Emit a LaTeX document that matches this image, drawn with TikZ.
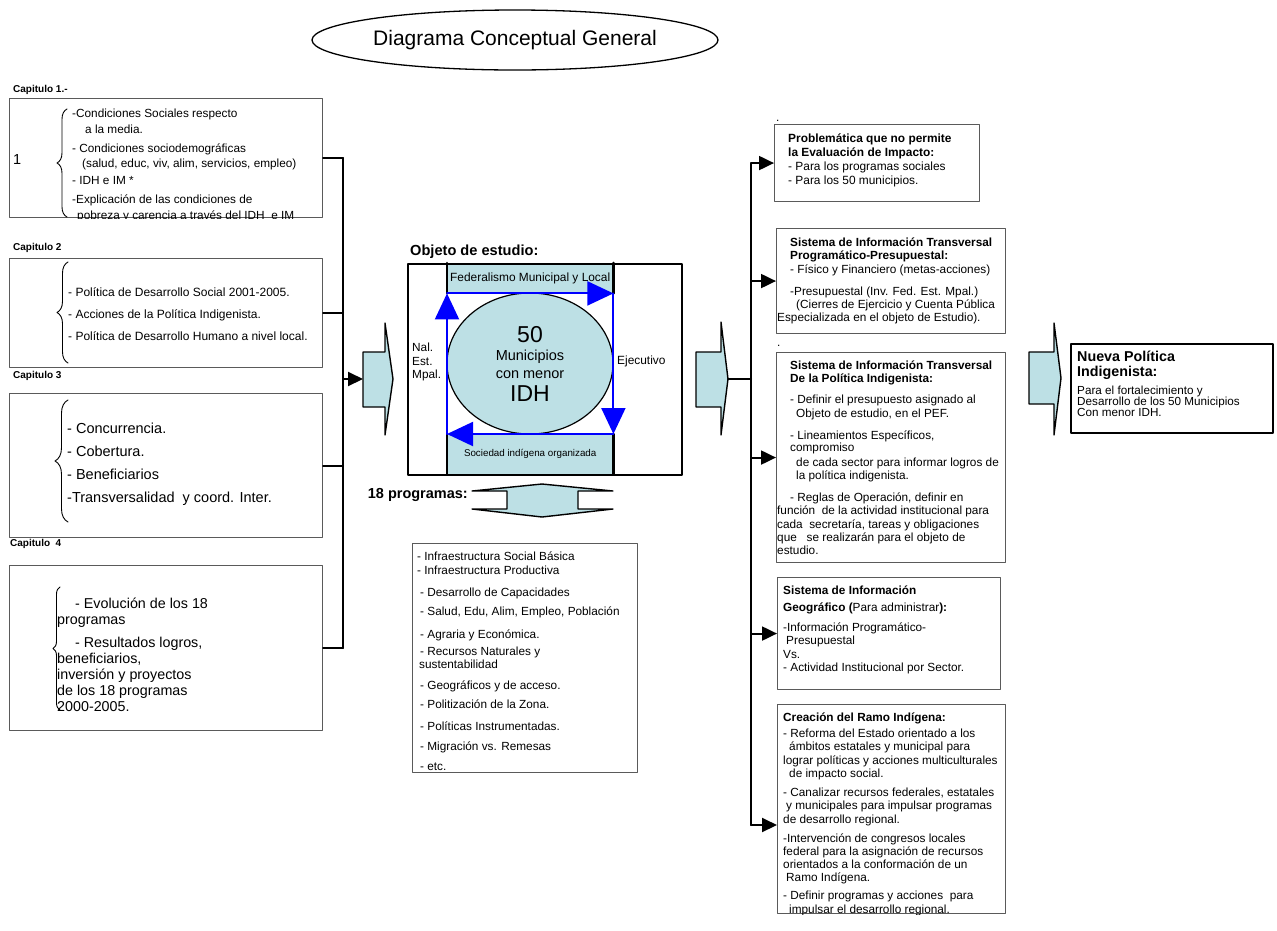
\documentclass[tikz,border=0pt]{standalone}
\usepackage{fontspec}
\setmainfont{Liberation Sans}
\usetikzlibrary{arrows.meta,shapes.geometric,decorations.pathreplacing}
\definecolor{paleaqua}{RGB}{189,224,229}
\definecolor{framegrey}{RGB}{90,90,90}
\newcommand\fsz[2]{\fontsize{#1}{#2}\selectfont\lineskiplimit=-50pt\relax}
\begin{document}
\begin{tikzpicture}[line cap=round,line join=round,x=1pt,y=-1pt,
  wire/.style={line width=2pt},
  feed/.style={wire,-{Triangle[length=15pt,width=14pt]}},
  panel/.style={draw=framegrey,line width=1.1pt,anchor=north west,inner sep=0pt},
  heavypanel/.style={draw=black,line width=2pt,anchor=north west,inner sep=0pt},
  txt/.style={anchor=north west,inner sep=0pt,align=left,font=\fsz{11.8}{13.3}},
  chapter/.style={anchor=west,inner sep=0pt,font=\fsz{10}{12}\bfseries},
  blockarrow/.style={draw=black,fill=paleaqua,line width=1.4pt},
  circuit/.style={draw=blue,line width=2pt,-{Triangle[length=26pt,width=24pt]}},
  curly/.style={decorate,decoration={brace,amplitude=#1},line width=0.9pt}]
\useasboundingbox (0,0) rectangle (1277,930);

\node[draw,ellipse,line width=1.3pt,inner sep=0pt,minimum width=406pt,minimum height=60pt,font=\fsz{21}{25}] (title) at (515,40) {Diagrama Conceptual General};

\node[chapter] (lab1) at (13,90) {Capitulo 1.-};
\node[chapter] (lab2) at (13,248) {Capitulo 2};
\node[chapter] (lab3) at (13,376) {Capitulo 3};
\node[chapter] (lab4) at (10,544) {Capitulo\ \ 4};

\node[panel,minimum width=313pt,minimum height=119pt] (cap1) at (9,98) {};
\node[panel,minimum width=313pt,minimum height=109pt] (cap2) at (9,258) {};
\node[panel,minimum width=313pt,minimum height=144pt] (cap3) at (9,393) {};
\node[panel,minimum width=313pt,minimum height=165pt] (cap4) at (9,565) {};

\node[anchor=west,inner sep=0pt,font=\fsz{14.5}{16}] (one) at (13,160) {1};
\draw[curly=10pt] (67,217) -- (67,109);
\draw[curly=11pt] (68,363) -- (68,262);
\draw[curly=13pt] (68,522) -- (68,400);
\draw[curly=7pt] (60,710) -- (60,587);

\begin{scope}
\clip (cap1.north west) rectangle (cap1.south east);
\node[txt,font=\fsz{11.8}{15.5}] (cap1txt) at (72,108.8) {-Condiciones Sociales respecto\\
\hspace*{13pt}a la media.\\[3.5pt]
- Condiciones sociodemográficas\\
\hspace*{10pt}(salud, educ, viv, alim, servicios, empleo)\\[1.5pt]
- IDH e IM *\\[3.5pt]
-Explicación de las condiciones de\\
\hspace*{5pt}pobreza y carencia a través del IDH\ \ e IM};
\end{scope}
\node[txt,font=\fsz{12}{22}] (cap2txt) at (68,287.7) {- Política de Desarrollo Social 2001-2005.\\
- Acciones de la Política Indigenista.\\
- Política de Desarrollo Humano a nivel local.};
\node[txt,font=\fsz{14.5}{23}] (cap3txt) at (67,422.8) {- Concurrencia.\\
- Cobertura.\\
- Beneficiarios\\
-Transversalidad\ \ y coord. Inter.};
\node[txt,font=\fsz{14.3}{16}] (cap4txt) at (57,597.9) {\hspace*{18pt}- Evolución de los 18\\
programas\\[7pt]
\hspace*{18pt}- Resultados logros,\\
beneficiarios,\\
inversión y proyectos\\
de los 18 programas\\
2000-2005.};

\coordinate (lbus) at (343,379);
\coordinate (blkA) at (363,379);
\draw[wire] (cap1.east -| lbus) -- (cap4.east -| lbus);
\draw[wire] (cap1.east) -- (cap1.east -| lbus);
\draw[wire] (cap2.east) -- (cap2.east -| lbus);
\draw[wire] (cap3.east) -- (cap3.east -| lbus);
\draw[wire] (cap4.east) -- (cap4.east -| lbus);
\draw[blockarrow] (363,352) -- (385,352) -- (385,323) -- (393,379) -- (385,435) -- (385,407) -- (363,407) -- cycle;
\draw[feed] (lbus) -- (blkA);

\node[anchor=west,inner sep=0pt,font=\fsz{14.6}{17}\bfseries] (objlab) at (410,252) {Objeto de estudio:};
\node[fill=paleaqua,anchor=north west,inner sep=0pt,minimum width=166pt,minimum height=30pt,font=\fsz{11.9}{14}] (federal) at (447,263) {Federalismo Municipal y Local};
\node[fill=paleaqua,anchor=north west,inner sep=0pt,minimum width=166pt,minimum height=40pt,font=\fsz{9.8}{12}] (sociedad) at (447,434) {Sociedad indígena organizada};
\node[heavypanel,minimum width=274pt,minimum height=211pt] (objeto) at (407,263) {};
\draw[line width=2.6pt] (federal.north west) -- (federal.south west);
\draw[line width=2.6pt] (federal.north east) -- (federal.south east);
\draw[line width=2.6pt] (sociedad.north west) -- (sociedad.south west);
\draw[line width=2.6pt] (sociedad.north east) -- (sociedad.south east);
\node[draw,ellipse,fill=paleaqua,line width=1.2pt,inner sep=0pt,minimum width=166pt,minimum height=141pt,align=center,font=\fsz{14.5}{18}] (munis) at (530,363.5) {{\fsz{23}{18}50}\\
Municipios\\
con menor\\[5pt]
{\fsz{23}{18}IDH}};
\draw[circuit] (sociedad.north west) -- (federal.south west);
\draw[circuit] (federal.south west) -- (federal.south east);
\draw[circuit] (federal.south east) -- (sociedad.north east);
\draw[circuit] (sociedad.north east) -- (sociedad.north west);
\node[txt,font=\fsz{11.8}{13.5}] (niveles) at (412,342.8) {Nal.\\
Est.\\
Mpal.};
\node[anchor=west,inner sep=0pt,font=\fsz{11.9}{14}] (ejecutivo) at (617,361) {Ejecutivo};

\node[anchor=east,inner sep=0pt,font=\fsz{14.5}{17}\bfseries] (proglab) at (468,495) {18 programas:};
\draw[blockarrow] (472,491) -- (542,484) -- (613,491) -- (578,491) -- (578,509) -- (613,509) -- (542,517) -- (472,509) -- (507,509) -- (507,491) -- cycle;
\node[panel,minimum width=225pt,minimum height=229pt] (programas) at (412,543) {};
\node[txt] (progtxt) at (417,551.8) {- Infraestructura Social Básica\\
- Infraestructura Productiva\\[8.7pt]
\hspace*{3pt}- Desarrollo de Capacidades\\[5.7pt]
\hspace*{3pt}- Salud, Edu, Alim, Empleo, Población\\[9.7pt]
\hspace*{3pt}- Agraria y Económica.\\[3.7pt]
\hspace*{3pt}- Recursos Naturales y\\
\hspace*{2pt}sustentabilidad\\[7.7pt]
\hspace*{3pt}- Geográficos y de acceso.\\[5.7pt]
\hspace*{3pt}- Politización de la Zona.\\[8.7pt]
\hspace*{3pt}- Políticas Instrumentadas.\\[6.7pt]
\hspace*{3pt}- Migración vs. Remesas\\[6.7pt]
\hspace*{3pt}- etc.};

\draw[blockarrow] (696,352) -- (721,352) -- (721,322) -- (728,379) -- (721,435) -- (721,407) -- (696,407) -- cycle;
\coordinate (blkB) at (728,379);
\coordinate (rbus) at (751,379);

\node[panel,minimum width=205pt,minimum height=77pt] (problema) at (774,124) {};
\node[panel,minimum width=229pt,minimum height=105pt] (sitrans) at (776,228) {};
\node[panel,minimum width=229pt,minimum height=210pt] (siindig) at (776,352) {};
\node[panel,minimum width=223pt,minimum height=112pt] (sigeo) at (777,577) {};
\node[panel,minimum width=228pt,minimum height=209pt] (ramo) at (777,704) {};
\coordinate (ramoin) at (777,825);

\draw[wire] (blkB) -- (rbus);
\draw[wire] (problema.west -| rbus) -- (ramoin -| rbus);
\draw[feed] (problema.west -| rbus) -- (problema.west);
\draw[feed] (sitrans.west -| rbus) -- (sitrans.west);
\draw[feed] (siindig.west -| rbus) -- (siindig.west);
\draw[feed] (sigeo.west -| rbus) -- (sigeo.west);
\draw[feed] (ramoin -| rbus) -- (ramoin);

\node[anchor=base west,inner sep=0pt,font=\fsz{11.8}{13}] (dotA) at (776,121) {.};
\node[anchor=base west,inner sep=0pt,font=\fsz{11.8}{13}] (dotB) at (777,346) {.};

\node[txt,font=\fsz{11.9}{13.9}] (problematxt) at (788,134) {\textbf{Problemática que no permite}\\
\textbf{la Evaluación de Impacto:}\\
- Para los programas sociales\\
- Para los 50 municipios.};
\node[txt] (sitranstxt) at (777,237.7) {\hspace*{13pt}\textbf{Sistema de Información Transversal}\\
\hspace*{13pt}\textbf{Programático-Presupuestal:}\\
\hspace*{13pt}- Físico y Financiero (metas-acciones)\\[8.7pt]
\hspace*{13pt}-Presupuestal (Inv. Fed. Est. Mpal.)\\
\hspace*{19pt}(Cierres de Ejercicio y Cuenta Pública\\
Especializada en el objeto de Estudio).};
\node[txt] (siindigtxt) at (777,360.7) {\hspace*{13pt}\textbf{Sistema de Información Transversal}\\
\hspace*{13pt}\textbf{De la Política Indigenista:}\\[7.7pt]
\hspace*{13pt}- Definir el presupuesto asignado al\\
\hspace*{19pt}Objeto de estudio, en el PEF.\\[8.7pt]
\hspace*{13pt}- Lineamientos Específicos,\\[-1.3pt]
\hspace*{13pt}compromiso\\[1.7pt]
\hspace*{19pt}de cada sector para informar logros de\\
\hspace*{19pt}la política indigenista.\\[8.7pt]
\hspace*{13pt}- Reglas de Operación, definir en\\
función\ \ de la actividad institucional para\\
cada\ \ secretaría, tareas y obligaciones\\
que\ \ \ se realizarán para el objeto de\\
estudio.};
\node[txt] (sigeotxt) at (783,585.7) {\textbf{Sistema de Información}\\[3.7pt]
\textbf{Geográfico (}Para administrar\textbf{):}\\[6.7pt]
-Información Programático-\\
\hspace*{3pt}Presupuestal\\
Vs.\\
- Actividad Institucional por Sector.};
\begin{scope}
\clip (ramo.north west) rectangle (ramo.south east);
\node[txt] (ramotxt) at (783,712.7) {\textbf{Creación del Ramo Indígena:}\\[2.7pt]
- Reforma del Estado orientado a los\\
\hspace*{6pt}ámbitos estatales y municipal para\\
lograr políticas y acciones multiculturales\\
\hspace*{6pt}de impacto social.\\[5.7pt]
- Canalizar recursos federales, estatales\\
\hspace*{3pt}y municipales para impulsar programas\\
de desarrollo regional.\\[5.7pt]
-Intervención de congresos locales\\
federal para la asignación de recursos\\
orientados a la conformación de un\\
\hspace*{3pt}Ramo Indígena.\\[4.7pt]
- Definir programas y acciones\ \ para\\
\hspace*{6pt}impulsar el desarrollo regional.};
\end{scope}

\draw[blockarrow] (1029,352) -- (1054,352) -- (1054,323) -- (1061,378) -- (1054,435) -- (1054,404) -- (1029,404) -- cycle;
\node[heavypanel,minimum width=202pt,minimum height=89pt] (nueva) at (1070,343) {};
\node[txt,font=\fsz{11.7}{11}] (nuevatxt) at (1077,350.7) {{\fsz{14.3}{11}\bfseries Nueva Política}\\[4pt]
{\fsz{14.3}{11}\bfseries Indigenista:}\\[7pt]
Para el fortalecimiento y\\
Desarrollo de los 50 Municipios\\
Con menor IDH.};
\end{tikzpicture}
\end{document}
